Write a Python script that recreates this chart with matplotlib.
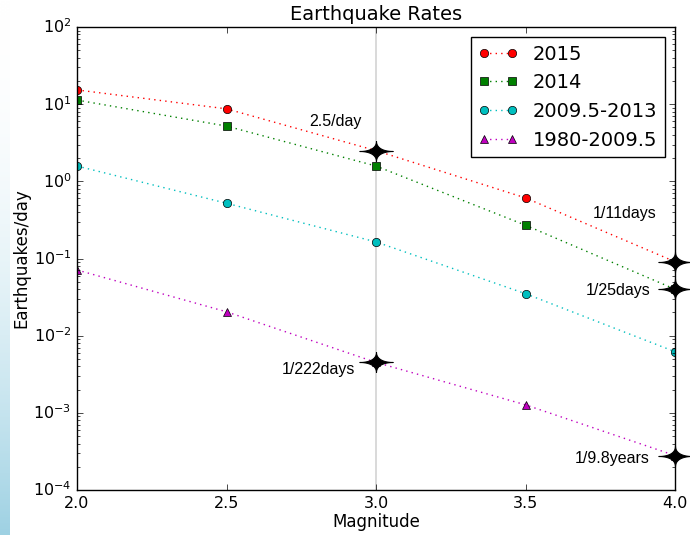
import numpy as np
import matplotlib
matplotlib.use("Agg")
import matplotlib.pyplot as plt
from matplotlib.path import Path

plt.style.use("classic")

mags = [2.0, 2.5, 3.0, 3.5, 4.0]
rate_2015 = [15.3, 8.7, 2.5, 0.61, 1 / 11.]
rate_2014 = [11.3, 5.2, 1.58, 0.27, 1 / 25.]
rate_2009 = [1.58, 0.52, 0.164, 0.035, 0.0062]
rate_1980 = [0.071, 0.0204, 1 / 222., 0.00127, 1 / (9.8 * 365)]

# highlighted rates and where their labels go
star_mag = [3.0, 4.0, 4.0, 3.0, 4.0]
star_rate = [2.5, 1 / 11., 1 / 25., 1 / 222., 1 / (9.8 * 365)]
star_text = ["2.5/day", "1/11days", "1/25days", "1/222days", "1/9.8years"]
text_x = [2.863, 3.83, 3.81, 2.806, 3.79]
text_y = [6.05, 0.38, 0.039, 0.0036, 0.000254]

# elongated four-point star (stretched astroid)
t = np.linspace(0, 2 * np.pi, 400)
c, s = np.cos(t), np.sin(t)
verts = np.column_stack([np.sign(c) * np.abs(c) ** 3.8,
                         0.6 * np.sign(s) * np.abs(s) ** 3.8])
star = Path(verts, closed=True)

fig = plt.figure(figsize=(6.9, 5.35), dpi=100, facecolor="white")
ax = fig.add_axes([77 / 690., 45 / 535., 598 / 690., 463 / 535.])

# faint strip on the left edge
strip = fig.add_axes([0, 0, 10 / 690., 1])
grad = np.linspace(0, 1, 256).reshape(-1, 1) ** 2
col = np.array([1.0, 1.0, 1.0]) * (1 - grad[..., None]) + \
    np.array([0.62, 0.82, 0.89]) * grad[..., None]
strip.imshow(col, aspect="auto", origin="upper", extent=[0, 1, 0, 1])
strip.axis("off")

ax.axvline(3.0, color="lightgray", lw=1.2, zorder=1)
ax.plot(mags, rate_2015, "r:o", label="2015")
ax.plot(mags, rate_2014, "g:s", label="2014")
ax.plot(mags, rate_2009, "c:o", label="2009.5-2013")
ax.plot(mags, rate_1980, "m:^", label="1980-2009.5")
ax.plot(star_mag, star_rate, ls="none", marker=star, ms=24, color="k",
        mec="k", mew=0.8, zorder=5, clip_on=False)

for tx, ty, s in zip(text_x, text_y, star_text):
    ax.text(tx, ty, s, ha="center", va="center", fontsize=11.5,
            family="Liberation Sans")

ax.set_yscale("log")
ax.set_xlim(2.0, 4.0)
ax.set_ylim(1e-4, 1e2)
ax.set_xticks([2.0, 2.5, 3.0, 3.5, 4.0])
ax.set_title("Earthquake Rates", fontsize=14)
ax.set_xlabel("Magnitude", fontsize=12, labelpad=2)
ax.set_ylabel("Earthquakes/day", fontsize=12, labelpad=2)
ax.tick_params(labelsize=11.5)
ax.legend(loc="upper right", fontsize=14, numpoints=2, fancybox=False)

fig.savefig("out.png", dpi=100, facecolor="white")
